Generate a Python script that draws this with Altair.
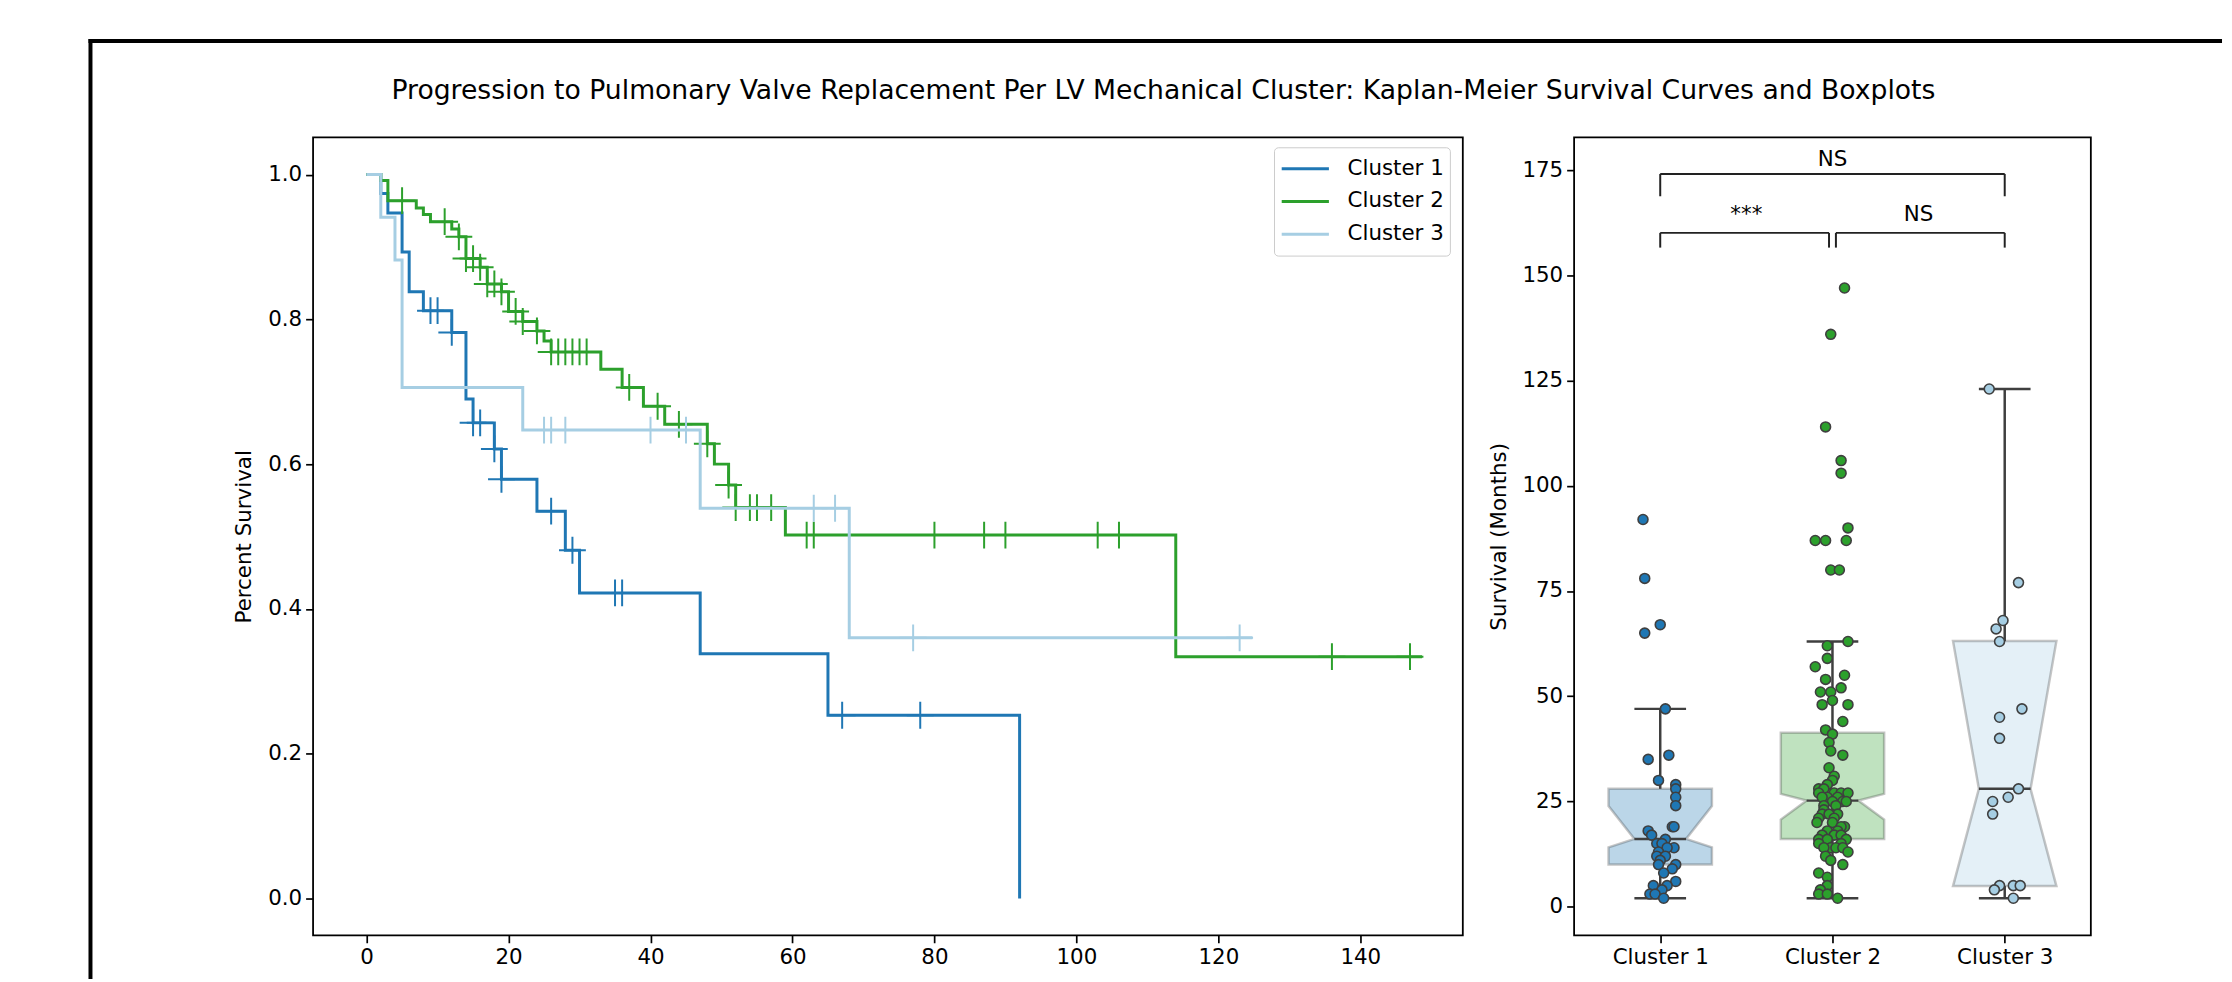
import altair as alt
import pandas as pd

FIG_TITLE = "Progression to Pulmonary Valve Replacement Per LV Mechanical Cluster: Kaplan-Meier Survival Curves and Boxplots"
X_TITLE_LEFT = "Months"
Y_TITLE_LEFT = "Percent Survival"
Y_TITLE_RIGHT = "Survival (Months)"

clusters = ["Cluster 1", "Cluster 2", "Cluster 3"]
colors = ["#1f77b4", "#2ca02c", "#a6cee3"]

# Kaplan-Meier step points (months, survival)
km1_t = [0, 2, 3, 5, 6, 8, 12, 14, 15, 18, 19, 24, 28, 30, 47, 65, 92]
km1_s = [1.0, 0.974, 0.947, 0.893, 0.838, 0.812, 0.782, 0.690, 0.657, 0.621, 0.579,
         0.535, 0.481, 0.422, 0.338, 0.253, 0.0]
cens1_t = [9, 10, 12, 15, 16, 18, 19, 26, 29, 35, 36, 67, 78]

km2_t = [0, 2, 3, 7, 8, 9, 12, 13, 14, 16, 17, 19, 20, 22, 24, 25, 26, 33, 36, 39,
         42, 48, 49, 51, 52, 59, 114, 148.7]
km2_s = [1.0, 0.992, 0.964, 0.954, 0.945, 0.935, 0.925, 0.914, 0.884, 0.872, 0.849,
         0.838, 0.811, 0.797, 0.784, 0.770, 0.755, 0.731, 0.706, 0.680, 0.655, 0.628,
         0.600, 0.571, 0.540, 0.502, 0.334, 0.334]
cens2_t = [5, 11, 13, 14, 15, 16, 17, 18, 19, 21, 22, 24, 26, 27, 28, 29, 30, 31, 37,
           41, 44, 48, 51, 52, 54, 55, 57, 62, 63, 80, 87, 90, 103, 106, 136, 147]

km3_t = [0, 2, 4, 5, 22, 47, 68, 124.8]
km3_s = [1.0, 0.941, 0.882, 0.706, 0.647, 0.539, 0.360, 0.360]
cens3_t = [25, 26, 28, 40, 45, 63, 66, 77, 123]

# Box statistics
whis_lo = [2, 2, 2]
box_q1 = [10.0, 16.1, 4.9]
notch_lo = [14.1, 20.7, 4.9]
box_med = [16.1, 25.2, 28.0]
notch_hi = [23.9, 26.8, 63.1]
box_q3 = [28.0, 41.3, 63.1]
whis_hi = [47, 63, 123]

# Strip-plot points: survival (months) and horizontal jitter (category units)
c1_val = [92, 78, 67, 65, 47, 36, 35, 30, 29, 28, 26, 24, 19, 19, 18, 17, 16, 15, 15,
          14, 14, 13, 12, 12, 11, 10, 10, 9, 8, 6, 5, 5, 4, 3, 3, 2]
c1_jit = [-0.10, -0.09, 0.0, -0.09, 0.03, 0.05, -0.07, -0.01, 0.09, 0.09, 0.09, 0.09,
          0.07, 0.08, -0.07, -0.05, 0.03, -0.02, 0.01, 0.08, 0.04, -0.01, -0.02, 0.03,
          0.0, -0.01, 0.09, 0.07, 0.02, 0.09, 0.04, -0.04, 0.01, -0.06, -0.03, 0.02]
c2_val = [147, 136, 114, 106, 103, 90, 87, 87, 87, 80, 80, 63, 62, 59, 57, 55, 54, 52,
          51, 51, 49, 48, 48, 44, 42, 41, 39, 37, 36, 33, 31, 30, 29, 28, 28, 27, 27, 27,
          27, 26, 26, 26, 25, 25, 25, 24, 24, 23, 22, 22, 22, 21, 21, 20, 20, 19, 19, 18,
          18, 17, 17, 17, 16, 16, 16, 15, 15, 14, 14, 14, 14, 13, 12, 11, 10, 8, 7, 5, 4,
          3, 3, 2]
c2_jit = [0.07, -0.01, -0.04, 0.05, 0.05, 0.09, -0.10, -0.04, 0.08, -0.01, 0.04, 0.09,
          -0.03, -0.03, -0.10, 0.07, -0.04, 0.05, -0.07, -0.01, 0.0, -0.06, 0.09, 0.06,
          -0.04, 0.0, -0.02, -0.01, 0.06, -0.02, 0.01, 0.0, -0.03, -0.08, -0.05, -0.08,
          0.01, 0.05, 0.09, -0.03, 0.03, -0.06, 0.0, 0.06, 0.08, -0.05, 0.02, -0.05, 0.03,
          -0.06, -0.02, 0.01, -0.08, -0.09, 0.0, 0.07, 0.05, -0.03, 0.03, -0.06, 0.01,
          0.05, -0.08, -0.03, 0.08, -0.08, 0.05, -0.01, 0.02, 0.06, -0.05, 0.09, -0.04,
          -0.01, 0.06, -0.08, -0.03, -0.03, -0.07, -0.08, -0.03, 0.03]
c3_val = [123, 77, 68, 66, 63, 47, 45, 40, 28, 26, 25, 22, 5, 5, 5, 4, 2]
c3_jit = [-0.09, 0.08, -0.01, -0.05, -0.03, 0.10, -0.03, -0.03, 0.08, 0.02, -0.07,
          -0.07, -0.03, 0.05, 0.09, -0.06, 0.05]

# Significance annotations (category units, months)
brk_x = [0.0, 1.02, 0.0]
brk_x2 = [0.98, 2.0, 2.0]
brk_y = [160.1, 160.1, 174.1]
brk_leg = [156.6, 156.6, 168.8]
sig_x = [0.5, 1.5, 1.0]
sig_y = [162.9, 162.9, 176.0]
sig_txt = ["***", "NS", "NS"]

FONT = "DejaVu Sans"
FS = 21.5
W_LEFT, W_RIGHT, H = 1157, 520, 803


def surv_at(ts, ss, t):
    v = ss[0]
    for tt, s in zip(ts, ss):
        if tt <= t:
            v = s
    return v


km_sets = [(km1_t, km1_s, cens1_t), (km2_t, km2_s, cens2_t), (km3_t, km3_s, cens3_t)]

# ---------------- left panel ----------------
xs_l = alt.Scale(domain=[-7.54, 154.44], nice=False, zero=False)
ys_l = alt.Scale(domain=[-0.051, 1.0515], nice=False, zero=False)
col_l = alt.Scale(domain=clusters, range=colors)
ax_xl = alt.Axis(values=list(range(0, 141, 20)), format="d", title=X_TITLE_LEFT, titlePadding=13)
ax_yl = alt.Axis(values=[0.0, 0.2, 0.4, 0.6, 0.8, 1.0], format=".1f", title=Y_TITLE_LEFT,
                 titlePadding=12)
leg = alt.Legend(orient="none", legendX=967, legendY=10, title=None, symbolType="stroke",
                 symbolSize=2256, symbolStrokeWidth=3, labelFontSize=FS, labelFont=FONT,
                 labelColor="black", strokeColor="#cccccc", fillColor="white",
                 cornerRadius=4, padding=6, rowPadding=2, clipHeight=31, labelOffset=17)

PLUS = "M-1,0L1,0M0,-1L0,1"
layers = []
for name, (ts, ss, cs) in zip(clusters, km_sets):
    df_line = pd.DataFrame({"time": ts, "surv": ss, "cluster": name})
    df_c = pd.DataFrame({"time": cs, "surv": [surv_at(ts, ss, t) for t in cs], "cluster": name})
    enc = dict(
        x=alt.X("time:Q", scale=xs_l, axis=ax_xl),
        y=alt.Y("surv:Q", scale=ys_l, axis=ax_yl),
        color=alt.Color("cluster:N", scale=col_l, legend=leg),
    )
    layers.append(alt.Chart(df_line).mark_line(interpolate="step-after", strokeWidth=3).encode(**enc))
    layers.append(alt.Chart(df_c).mark_point(shape=PLUS, size=729, strokeWidth=2, filled=False,
                                             opacity=1).encode(**enc))

one = pd.DataFrame({"k": [0]})
frame_top = alt.Chart(one).mark_rule(color="black", strokeWidth=4, strokeCap="square").encode(
    x=alt.value(-224), x2=alt.value(1919), y=alt.value(-97))
frame_left = alt.Chart(one).mark_rule(color="black", strokeWidth=4, strokeCap="square").encode(
    x=alt.value(-224), y=alt.value(-97), y2=alt.value(845))
title_txt = alt.Chart(one).mark_text(text=FIG_TITLE, fontSize=26.8, font=FONT, color="black",
                                     align="center", baseline="middle").encode(
    x=alt.value(855.7), y=alt.value(-47))

left = alt.layer(*layers, frame_top, frame_left, title_txt).properties(width=W_LEFT, height=H)

# ---------------- right panel ----------------
xs_r = alt.Scale(domain=[-0.5, 2.5], nice=False, zero=False)
ys_r = alt.Scale(domain=[-6.8, 182.8], nice=False, zero=False)
col_r = alt.Scale(domain=clusters, range=colors)
lab_expr = "datum.value == 0 ? '%s' : datum.value == 1 ? '%s' : '%s'" % tuple(clusters)
ax_xr = alt.Axis(values=[0, 1, 2], labelExpr=lab_expr, title=None)
ax_yr = alt.Axis(values=list(range(0, 176, 25)), format="d", title=Y_TITLE_RIGHT, titlePadding=12)

box_rows, whisk_rows, hline_rows = [], [], []
for i, c in enumerate(clusters):
    for yv, half in [(box_q1[i], 0.3), (notch_lo[i], 0.3), (box_med[i], 0.15),
                     (notch_hi[i], 0.3), (box_q3[i], 0.3)]:
        box_rows.append({"cluster": c, "y": yv, "xl": i - half, "xr": i + half})
    whisk_rows.append({"x": i, "y": box_q3[i], "y2": whis_hi[i]})
    whisk_rows.append({"x": i, "y": box_q1[i], "y2": whis_lo[i]})
    for yv in (whis_lo[i], whis_hi[i], box_med[i]):
        hline_rows.append({"x": i - 0.15, "x2": i + 0.15, "y": yv})
box_df = pd.DataFrame(box_rows)
whisk_df = pd.DataFrame(whisk_rows)
hline_df = pd.DataFrame(hline_rows)

pts = []
for i, (vals, jits) in enumerate([(c1_val, c1_jit), (c2_val, c2_jit), (c3_val, c3_jit)]):
    for v, j in zip(vals, jits):
        pts.append({"cluster": clusters[i], "y": v, "x": i + j})
pts_df = pd.DataFrame(pts)

brk_df = pd.DataFrame({"x": brk_x, "x2": brk_x2, "y": brk_y})
legs_df = pd.DataFrame({"x": brk_x + brk_x2, "y": brk_y + brk_y, "y2": brk_leg + brk_leg})
sig_df = pd.DataFrame({"x": sig_x, "y": sig_y, "t": sig_txt})

X = lambda f: alt.X(f, scale=xs_r, axis=ax_xr)
Y = lambda f: alt.Y(f, scale=ys_r, axis=ax_yr)

box = alt.Chart(box_df).mark_area(orient="horizontal", fillOpacity=0.3, stroke="#404040",
                                  strokeOpacity=0.3, strokeWidth=2.5).encode(
    y=Y("y:Q"), x=X("xl:Q"), x2="xr:Q",
    color=alt.Color("cluster:N", scale=col_r, legend=None), detail="cluster:N")
whisk = alt.Chart(whisk_df).mark_rule(color="#3f3f3f", strokeWidth=2.5).encode(
    x=X("x:Q"), y=Y("y:Q"), y2="y2:Q")
hlines = alt.Chart(hline_df).mark_rule(color="#3f3f3f", strokeWidth=2.5).encode(
    x=X("x:Q"), x2="x2:Q", y=Y("y:Q"))
points = alt.Chart(pts_df).mark_circle(size=100, opacity=1, stroke="#3f3f3f",
                                       strokeWidth=1.6).encode(
    x=X("x:Q"), y=Y("y:Q"), color=alt.Color("cluster:N", scale=col_r, legend=None))
brk = alt.Chart(brk_df).mark_rule(color="#222222", strokeWidth=2).encode(
    x=X("x:Q"), x2="x2:Q", y=Y("y:Q"))
legs = alt.Chart(legs_df).mark_rule(color="#222222", strokeWidth=2).encode(
    x=X("x:Q"), y=Y("y:Q"), y2="y2:Q")
sig = alt.Chart(sig_df).mark_text(fontSize=FS, font=FONT, color="black", align="center",
                                  baseline="alphabetic").encode(
    x=X("x:Q"), y=Y("y:Q"), text="t:N")

right = alt.layer(box, whisk, hlines, points, brk, legs, sig).properties(width=W_RIGHT, height=H)

chart = alt.hconcat(left, right, spacing=112, bounds="flush").resolve_scale(
    color="independent").resolve_legend(color="independent").properties(
    padding={"left": 79, "top": 26, "right": 0, "bottom": 0}
).configure(font=FONT).configure_view(stroke="black", strokeWidth=1.8).configure_axis(
    grid=False, domain=False, tickColor="black", tickSize=7.5, tickWidth=1.7,
    labelColor="black", labelFontSize=FS, labelFont=FONT, labelPadding=4, labelFlush=False,
    titleColor="black", titleFontSize=FS, titleFont=FONT, titleFontWeight="normal")

chart.save("out.html", embed_options={"renderer": "svg", "actions": False})
